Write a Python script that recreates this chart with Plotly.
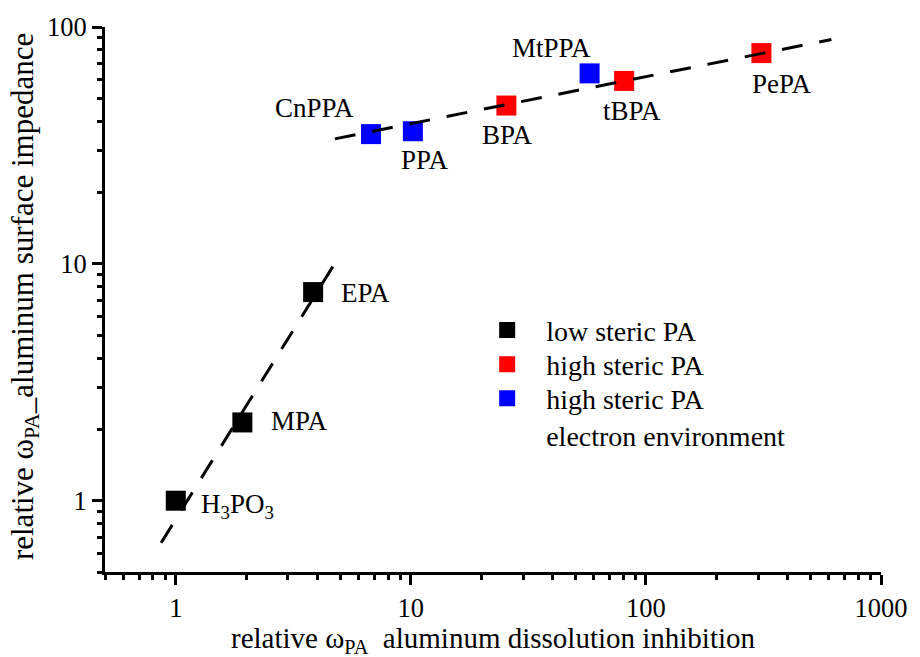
import math
import plotly.graph_objects as go

# ---- data ----
low_names = ["H<sub>3</sub>PO<sub>3</sub>", "MPA", "EPA"]
low_x = [1.0, 1.92, 3.84]
low_y = [1.0, 2.14, 7.6]

high_names = ["BPA", "tBPA", "PePA"]
high_x = [25.5, 80.8, 310.0]
high_y = [46.6, 59.2, 77.6]

elec_names = ["CnPPA", "PPA", "MtPPA"]
elec_x = [6.77, 10.2, 57.6]
elec_y = [35.3, 36.3, 63.7]

fit_low_x = [0.867, 4.75]
fit_low_y = [0.665, 10.05]
fit_high_x = [4.75, 615.0]
fit_high_y = [33.7, 88.5]

x_ticks = [1, 10, 100, 1000]
x_tick_text = ["1", "10", "100", "1000"]
y_ticks = [1, 10, 100]
y_tick_text = ["1", "10", "100"]

# ---- styling ----
FONT = "Liberation Serif"
MSIZE = 20
label_style = {  # name: (xanchor, xshift, yshift)
    "H<sub>3</sub>PO<sub>3</sub>": ("left", 23, -5),
    "MPA": ("left", 27, 1),
    "EPA": ("left", 26, -1),
    "CnPPA": ("center", -57, 26),
    "PPA": ("center", 12, -29),
    "BPA": ("center", 1, -29),
    "MtPPA": ("center", -38, 25),
    "tBPA": ("center", 8, -30),
    "PePA": ("center", 21, -31),
}

fig = go.Figure()
groups = [
    ("low steric PA", low_names, low_x, low_y, "#000000", "legend"),
    ("high steric PA", high_names, high_x, high_y, "#ff0000", "legend2"),
    ("high steric PA<br>electron environment", elec_names, elec_x, elec_y, "#0000ff", "legend3"),
]
for lg, nm, xs, ys, col, leg in groups:
    fig.add_trace(go.Scatter(
        x=xs, y=ys, mode="markers", name=lg, text=nm, legend=leg,
        marker=dict(symbol="square", size=MSIZE, color=col, line=dict(width=0)),
    ))

for fx, fy in [(fit_low_x, fit_low_y), (fit_high_x, fit_high_y)]:
    fig.add_trace(go.Scatter(
        x=fx, y=fy, mode="lines", showlegend=False, hoverinfo="skip",
        line=dict(color="black", width=3, dash="21px,17px"),
    ))

annotations = []
for _, nm, xs, ys, _, _ in groups:
    for n, xv, yv in zip(nm, xs, ys):
        xa, dx, dy = label_style[n]
        annotations.append(dict(
            x=math.log10(xv), y=math.log10(yv), xref="x", yref="y",
            text=n, showarrow=False, xanchor=xa, yanchor="middle",
            xshift=dx, yshift=dy, font=dict(family=FONT, size=27, color="black"),
        ))

# axis titles
annotations.append(dict(
    x=0.5, y=-0.124, xref="paper", yref="paper", showarrow=False,
    text="relative ω<sub>PA</sub>  aluminum dissolution inhibition",
    xanchor="center", yanchor="middle", font=dict(family=FONT, size=29, color="black"),
))
annotations.append(dict(
    x=-0.104, y=0.505, xref="paper", yref="paper", showarrow=False,
    text="relative ω<sub>PA</sub>_aluminum surface impedance", textangle=-90,
    xanchor="center", yanchor="middle", font=dict(family=FONT, size=31, color="black"),
))

axis_common = dict(
    type="log", showgrid=False, zeroline=False,
    showline=True, linecolor="black", linewidth=3,
    ticks="outside", ticklen=10, tickwidth=3, tickcolor="black",
    tickfont=dict(family=FONT, size=26.5, color="black"),
    minor=dict(ticks="outside", ticklen=5, tickwidth=3, tickcolor="black",
               dtick="D1", showgrid=False),
    mirror=False,
)

legend_common = dict(
    x=0.468, xanchor="left", yanchor="middle",
    bgcolor="rgba(0,0,0,0)", borderwidth=0,
    font=dict(family=FONT, size=28, color="black"),
    itemwidth=68, valign="top",
)

fig.update_layout(
    width=920, height=657,
    margin=dict(l=105, r=28, t=24, b=85),
    paper_bgcolor="white", plot_bgcolor="white",
    xaxis=dict(range=[math.log10(0.5), 3], tickmode="array",
               tickvals=x_ticks, ticktext=x_tick_text, **axis_common),
    yaxis=dict(range=[math.log10(0.5), 2], tickmode="array",
               tickvals=y_ticks, ticktext=y_tick_text, **axis_common),
    showlegend=True,
    legend=dict(y=0.4434, **legend_common),
    legend2=dict(y=0.3808, **legend_common),
    legend3=dict(y=0.2852, **legend_common),
    annotations=annotations,
    font=dict(family=FONT, color="black"),
)

fig.write_html(
    "out.html",
    config={"displayModeBar": False},
    post_script="document.body.style.margin='0px';document.body.style.overflow='hidden';",
)
